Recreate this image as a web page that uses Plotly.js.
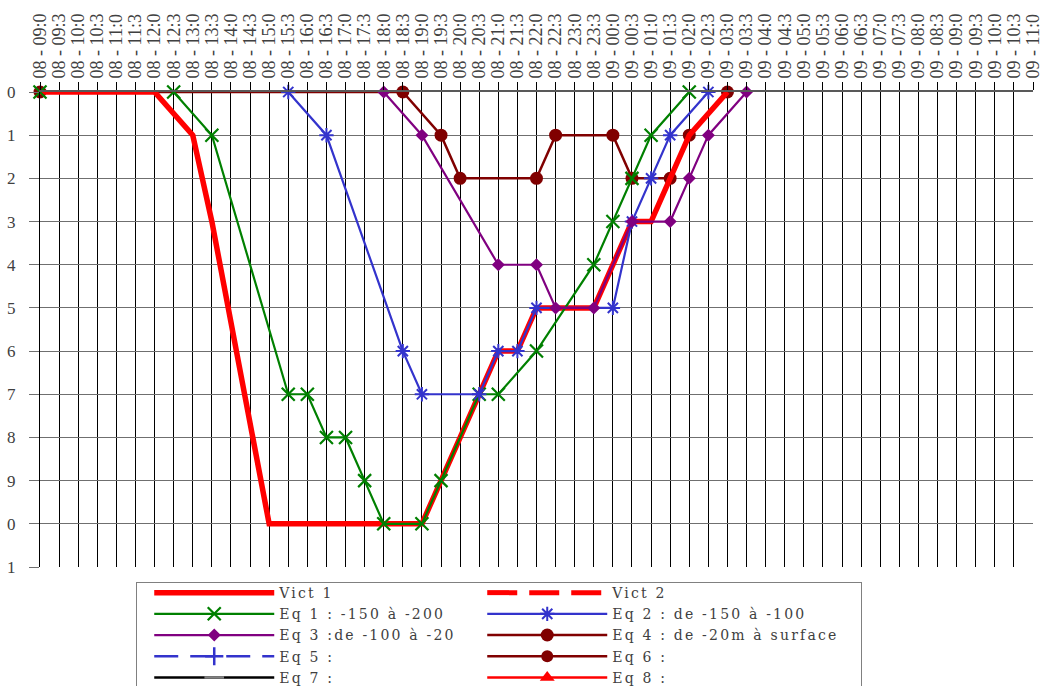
<!DOCTYPE html>
<html>
<head>
<meta charset="utf-8">
<script src="https://cdn.plot.ly/plotly-3.0.1.min.js"></script>
<style>
  html, body { margin: 0; padding: 0; background: #fff; }
  .legendtext { letter-spacing: 2.2px; }
  .legend .scrollbox { clip-path: none !important; }
  .legend rect.bg { x: -12px; y: 6px; width: 725px; }
</style>
</head>
<body>
<div id="chart" style="width:1044px;height:686px;"></div>
<script>
// Time categories (every 30 min), as printed on the chart
const timeLabels = [
  "08 - 09:0","08 - 09:3","08 - 10:0","08 - 10:3","08 - 11:0","08 - 11:3",
  "08 - 12:0","08 - 12:3","08 - 13:0","08 - 13:3","08 - 14:0","08 - 14:3",
  "08 - 15:0","08 - 15:3","08 - 16:0","08 - 16:3","08 - 17:0","08 - 17:3",
  "08 - 18:0","08 - 18:3","08 - 19:0","08 - 19:3","08 - 20:0","08 - 20:3",
  "08 - 21:0","08 - 21:3","08 - 22:0","08 - 22:3","08 - 23:0","08 - 23:3",
  "09 - 00:0","09 - 00:3","09 - 01:0","09 - 01:3","09 - 02:0","09 - 02:3",
  "09 - 03:0","09 - 03:3","09 - 04:0","09 - 04:3","09 - 05:0","09 - 05:3",
  "09 - 06:0","09 - 06:3","09 - 07:0","09 - 07:3","09 - 08:0","09 - 08:3",
  "09 - 09:0","09 - 09:3","09 - 10:0","09 - 10:3","09 - 11:0"
];
// Y axis ticks (labels as printed, truncated to last digit)
const depthTicks = [0,1,2,3,4,5,6,7,8,9,10,11];
const depthTickText = ["0","1","2","3","4","5","6","7","8","9","0","1"];

// Vict 1
const vict1Times = ["08 - 09:0","08 - 12:0","08 - 13:0","08 - 13:3","08 - 15:0","08 - 19:0","08 - 20:3","08 - 21:0","08 - 21:3","08 - 22:0","08 - 23:3","09 - 00:3","09 - 01:0","09 - 01:3","09 - 02:0","09 - 03:0"];
const vict1Depth = [0,0,1,3,10,10,7,6,6,5,5,3,3,2,1,0];

// Eq 1 : -150 à -200  (null = blank cell, breaks the line)
const eq1Times = ["08 - 09:0","08 - 09:0","08 - 12:3","08 - 13:3","08 - 15:3","08 - 16:0","08 - 16:3","08 - 17:0","08 - 17:3","08 - 18:0","08 - 19:0","08 - 19:3","08 - 20:3","08 - 21:0","08 - 22:0","08 - 23:3","09 - 00:0","09 - 00:3","09 - 01:0","09 - 02:0"];
const eq1Depth = [0,null,0,1,7,7,8,8,9,10,10,9,7,7,6,4,3,2,1,0];

// Eq 2 : de -150 à -100
const eq2Times = ["08 - 15:3","08 - 16:3","08 - 18:3","08 - 19:0","08 - 20:3","08 - 21:0","08 - 21:3","08 - 22:0","09 - 00:0","09 - 00:3","09 - 01:0","09 - 01:3","09 - 02:3"];
const eq2Depth = [0,1,6,7,7,6,6,5,5,3,2,1,0];

// Eq 3 :de -100 à -20
const eq3Times = ["08 - 18:0","08 - 19:0","08 - 21:0","08 - 22:0","08 - 22:3","08 - 23:3","09 - 00:3","09 - 01:3","09 - 02:0","09 - 02:3","09 - 03:3"];
const eq3Depth = [0,1,4,4,5,5,3,3,2,1,0];

// Eq 4 : de -20m à surface
const eq4Times = ["08 - 09:0","08 - 18:3","08 - 19:3","08 - 20:0","08 - 22:0","08 - 22:3","09 - 00:0","09 - 00:3","09 - 01:3","09 - 02:0","09 - 03:0"];
const eq4Depth = [0,0,1,2,2,1,1,2,2,1,0];

// Series without values (legend only): one blank cell
const emptyTimes = ["08 - 09:0"];
const emptyDepth = [null];

// Legend names
const seriesNames = ["Vict 1","Vict 2","Eq 1 : -150 à -200","Eq 2 : de -150 à -100","Eq 3 :de -100 à -20","Eq 4 : de -20m à surface","Eq 5 :","Eq 6 :","Eq 7 :","Eq 8 :"];

const RED = "#FF0000", GREEN = "#008000", BLUE = "#3333CC", PURPLE = "#800080", MAROON = "#800000";

const traces = [
  { name: seriesNames[5], legendrank: 6, x: eq4Times, y: eq4Depth, mode: "lines+markers", connectgaps: true, cliponaxis: false,
    line: {color: MAROON, width: 2.5}, marker: {symbol: "circle", size: 13, color: MAROON} },
  { name: seriesNames[0], legendrank: 1, x: vict1Times, y: vict1Depth, mode: "lines", cliponaxis: false,
    line: {color: RED, width: 5.5} },
  { name: seriesNames[1], legendrank: 2, x: emptyTimes, y: emptyDepth, mode: "lines",
    line: {color: RED, width: 5, dash: "30px,12px"} },
  { name: seriesNames[2], legendrank: 3, x: eq1Times, y: eq1Depth, mode: "lines+markers", connectgaps: false, cliponaxis: false,
    line: {color: GREEN, width: 2.2}, marker: {symbol: "x-thin-open", size: 13, color: GREEN, line: {color: GREEN, width: 2.2}} },
  { name: seriesNames[3], legendrank: 4, x: eq2Times, y: eq2Depth, mode: "lines+markers", cliponaxis: false,
    line: {color: BLUE, width: 2.2}, marker: {symbol: "asterisk-open", size: 12, color: BLUE, line: {color: BLUE, width: 2}} },
  { name: seriesNames[4], legendrank: 5, x: eq3Times, y: eq3Depth, mode: "lines+markers", cliponaxis: false,
    line: {color: PURPLE, width: 2.2}, marker: {symbol: "diamond", size: 10, color: PURPLE} },
  { name: seriesNames[6], legendrank: 7, x: emptyTimes, y: emptyDepth, mode: "lines+markers",
    line: {color: BLUE, width: 2.5, dash: "24px,12px"}, marker: {symbol: "cross-thin-open", size: 13, color: BLUE, line: {color: BLUE, width: 2.5}} },
  { name: seriesNames[7], legendrank: 8, x: emptyTimes, y: emptyDepth, mode: "lines+markers",
    line: {color: MAROON, width: 2.5}, marker: {symbol: "circle", size: 12, color: MAROON} },
  { name: seriesNames[8], legendrank: 9, x: emptyTimes, y: emptyDepth, mode: "lines+markers",
    line: {color: "#000000", width: 2.5}, marker: {symbol: "line-ew-open", size: 14, color: "#808080", line: {color: "#808080", width: 2.5}} },
  { name: seriesNames[9], legendrank: 10, x: emptyTimes, y: emptyDepth, mode: "lines+markers",
    line: {color: RED, width: 2.5}, marker: {symbol: "triangle-up", size: 13, color: RED} }
];

const layout = {
  width: 1044, height: 686,
  margin: {l: 40, r: 11, t: 92, b: 119, autoexpand: false},
  paper_bgcolor: "#ffffff", plot_bgcolor: "#ffffff",
  font: {family: "Liberation Serif, Times New Roman, serif", color: "#404040"},
  showlegend: true,
  xaxis: {
    type: "category", categoryorder: "array", categoryarray: timeLabels,
    side: "top", range: [0, timeLabels.length - 1], dtick: 1,
    tickangle: -90, tickfont: {family: "Liberation Serif, serif", size: 18, color: "#404040"},
    ticks: "outside", ticklen: 8, tickcolor: "#000000",
    showgrid: true, gridcolor: "#000000", gridwidth: 1,
    showline: true, linecolor: "#595959", linewidth: 2,
    zeroline: false, fixedrange: true
  },
  yaxis: {
    range: [11, 0], tickvals: depthTicks, ticktext: depthTickText,
    tickfont: {family: "Liberation Serif, serif", size: 17, color: "#404040"},
    ticks: "outside", ticklen: 10, tickcolor: "#6f6f6f", ticklabelstandoff: 10,
    showgrid: true, gridcolor: "#6f6f6f", gridwidth: 1,
    showline: true, linecolor: "#000000", linewidth: 1,
    zeroline: false, fixedrange: true
  },
  legend: {
    orientation: "h", x: 0.109, y: -0.019, xanchor: "left", yanchor: "top",
    entrywidth: 198, entrywidthmode: "pixels", itemwidth: 120,
    font: {family: "DejaVu Serif, serif", size: 14, color: "#404040"},
    bordercolor: "#808080", borderwidth: 1, bgcolor: "#ffffff",
    traceorder: "normal", tracegroupgap: 0
  }
};

Plotly.newPlot("chart", traces, layout, {displayModeBar: false, staticPlot: true});
</script>
</body>
</html>
